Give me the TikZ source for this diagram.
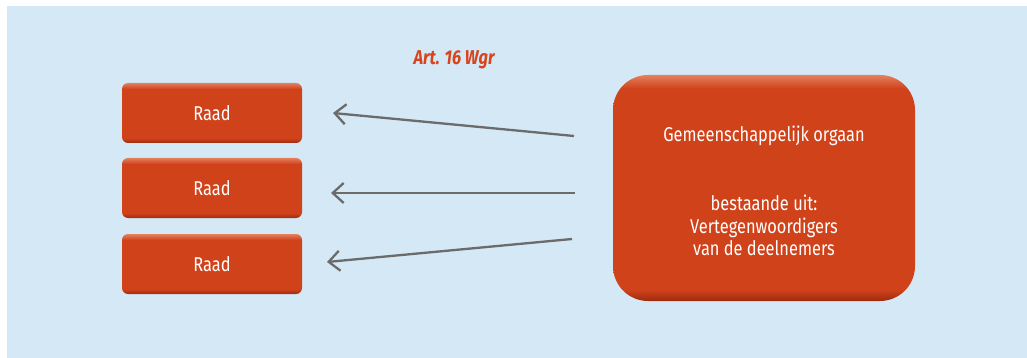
\documentclass[tikz,border=0pt]{standalone}
\usepackage{fontspec}
\setmainfont{Fira Sans}[FakeStretch=0.82]
\usetikzlibrary{arrows.meta,calc}
\definecolor{bgblue}{HTML}{D4E8F6}
\definecolor{org}{HTML}{D0421A}
\definecolor{orglt}{HTML}{E3805E}
\definecolor{orgdk}{HTML}{9E2A0E}
\definecolor{arrgray}{HTML}{6B6B6B}
\definecolor{lbl}{HTML}{D9441C}
\pgfdeclareverticalshading{raadshade}{100bp}{color(0bp)=(orgdk); color(25bp)=(orgdk); color(29bp)=(org); color(70bp)=(org); color(75bp)=(orglt); color(100bp)=(orglt)}
\pgfdeclareverticalshading{bigshade}{100bp}{color(0bp)=(orgdk); color(25bp)=(orgdk); color(27.5bp)=(org); color(72bp)=(org); color(75bp)=(orglt); color(100bp)=(orglt)}
\tikzset{
  raad/.style={rectangle, rounded corners=6pt, minimum width=180pt, minimum height=60pt,
    inner sep=0pt, shading=raadshade, text=white, font=\fontsize{20}{24}\selectfont},
  bigbox/.style={rectangle, rounded corners=35pt, minimum width=302pt, minimum height=226pt,
    inner sep=0pt, shading=bigshade},
  boxtext/.style={text=white, align=center, inner sep=0pt, font=\fontsize{20}{22.5}\selectfont},
  conn/.style={draw=arrgray, line width=2.3pt, -{Straight Barb[length=11pt,width=20pt,line width=2.3pt]}},
  artlabel/.style={text=lbl, font=\fontsize{20}{24}\selectfont\bfseries\itshape}
}
\begin{document}
\begin{tikzpicture}[x=1pt,y=-1pt]
\useasboundingbox (0,0) rectangle (1027,358);
\fill[bgblue] (7,6) rectangle (1027,358);
\node[raad] (r1) at (212,113) {Raad};
\node[raad] (r2) at (212,188) {Raad};
\node[raad] (r3) at (212,264) {Raad};
\node[bigbox] (g) at (764,188) {};
\node[boxtext] (gt) at ($(g.center)+(0,3)$) {Gemeenschappelijk orgaan\\[47pt]bestaande uit:\\Vertegenwoordigers\\van de deelnemers};
\node[artlabel] (art) at (454,60) {Art. 16 Wgr};
\coordinate (s1) at (574,136);
\coordinate (e1) at (333,113);
\coordinate (s2) at (575,193);
\coordinate (e2) at (331,193);
\coordinate (s3) at (572,239);
\coordinate (e3) at (327,262);
\draw[conn] (s1) -- (e1);
\draw[conn] (s2) -- (e2);
\draw[conn] (s3) -- (e3);
\end{tikzpicture}
\end{document}
